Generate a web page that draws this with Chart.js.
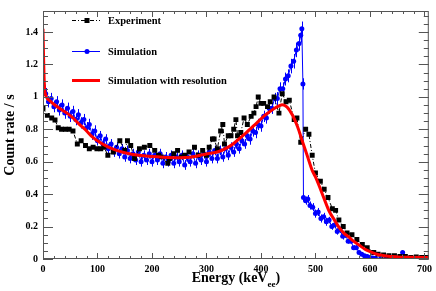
<!DOCTYPE html>
<html>
<head>
<meta charset="utf-8">
<script src="https://cdn.jsdelivr.net/npm/chart.js@4/dist/chart.umd.min.js"></script>
<style>
  html, body { margin: 0; padding: 0; background: #fff; }
  #wrap { width: 436px; height: 291px; }
</style>
</head>
<body>
<div id="wrap"><canvas id="mainChart" width="436" height="291"></canvas></div>
<script>
// axis tick labels
const xTickValues = [0, 100, 200, 300, 400, 500, 600, 700];
const yTickValues = [0, 0.2, 0.4, 0.6, 0.8, 1, 1.2, 1.4];

// Experiment (black squares)
const expEnergy = [0, 8, 16, 22, 28, 34, 41, 48, 55, 63, 70, 78, 85, 92, 99, 106, 112, 119, 129, 141,
  150, 155, 161, 168, 177, 186, 196, 205, 212, 217, 229, 232, 240, 247, 254, 260, 268, 278, 285, 293,
  300, 305, 311, 314, 320, 326, 330, 333, 340, 345, 350, 354, 357, 363, 369, 375, 382, 387, 391, 395,
  400, 405, 412, 417, 424, 433, 439, 446, 452, 461, 466, 473, 482, 488, 494, 500, 509, 516, 523, 531,
  537, 543, 551, 558, 567, 576, 586, 595, 607, 615, 625, 635, 645, 655, 665, 675, 685, 695, 705];
const expRate = [0.93, 0.886, 0.87, 0.857, 0.81, 0.80, 0.80, 0.80, 0.79, 0.71, 0.73, 0.70, 0.68, 0.69, 0.68, 0.68, 0.69, 0.64, 0.66, 0.73,
  0.67, 0.73, 0.70, 0.62, 0.68, 0.69, 0.70, 0.67, 0.64, 0.63, 0.59, 0.62, 0.65, 0.67, 0.63, 0.64, 0.66, 0.69, 0.64, 0.67,
  0.64, 0.69, 0.74, 0.74, 0.68, 0.79, 0.83, 0.71, 0.76, 0.76, 0.80, 0.86, 0.76, 0.78, 0.87, 0.83, 0.88, 0.90, 0.94, 1.00,
  0.96, 0.96, 0.94, 0.97, 1.00, 0.90, 1.02, 0.97, 0.98, 0.86, 0.87, 0.72, 0.80, 0.77, 0.64, 0.53, 0.48, 0.43, 0.38, 0.31,
  0.30, 0.24, 0.20, 0.16, 0.15, 0.12, 0.09, 0.07, 0.04, 0.03, 0.025, 0.02, 0.02, 0.015, 0.015, 0.01, 0.012, 0.01, 0.01];

// Simulation (blue points with error bars)
const simEnergy = [0, 5, 10, 15, 20, 25, 30, 35, 40, 45, 50, 55, 60, 65, 70, 75, 80, 85, 90, 95,
  100, 105, 110, 115, 120, 125, 130, 135, 140, 145, 150, 155, 160, 165, 170, 175, 180, 185, 190, 195,
  200, 205, 210, 215, 220, 225, 230, 235, 240, 245, 250, 255, 260, 265, 270, 275, 280, 285, 290, 295,
  300, 305, 310, 315, 320, 325, 330, 335, 340, 345, 350, 355, 360, 365, 370, 375, 380, 385, 390, 395,
  400, 405, 410, 415, 420, 425, 430, 435, 440, 445, 450, 455, 460, 465, 470, 473, 475, 477, 478, 482,
  486, 490, 495, 500, 505, 510, 515, 520, 525, 530, 535, 540, 545, 550, 555, 560, 565, 570, 575, 580,
  585, 590, 595, 600, 605, 610, 620, 630, 640, 650, 655, 660, 665, 670, 680, 690, 700];
const simRate = [1.07, 1.02, 0.97, 0.99, 0.94, 0.97, 0.92, 0.95, 0.90, 0.93, 0.88, 0.91, 0.86, 0.89, 0.84, 0.86, 0.81, 0.83, 0.77, 0.79,
  0.73, 0.76, 0.71, 0.74, 0.68, 0.71, 0.66, 0.69, 0.65, 0.68, 0.63, 0.67, 0.62, 0.65, 0.61, 0.66, 0.60, 0.64, 0.61, 0.65,
  0.60, 0.64, 0.61, 0.65, 0.59, 0.63, 0.60, 0.64, 0.59, 0.63, 0.60, 0.64, 0.58, 0.63, 0.60, 0.65, 0.59, 0.64, 0.61, 0.65,
  0.60, 0.66, 0.62, 0.67, 0.62, 0.67, 0.63, 0.68, 0.64, 0.69, 0.66, 0.71, 0.68, 0.73, 0.71, 0.76, 0.74, 0.79, 0.78, 0.83,
  0.82, 0.88, 0.87, 0.93, 0.93, 0.99, 0.99, 1.05, 1.05, 1.11, 1.13, 1.19, 1.22, 1.29, 1.33, 1.38, 1.42, 1.08, 0.38, 0.36,
  0.37, 0.33, 0.32, 0.28, 0.29, 0.25, 0.26, 0.23, 0.24, 0.20, 0.21, 0.17, 0.18, 0.14, 0.15, 0.11, 0.11, 0.07, 0.07, 0.04,
  0.03, 0.02, 0.015, 0.01, 0.006, 0.004, 0.003, 0.002, 0.002, 0.001, 0.002, 0.04, 0.002, 0.001, 0, 0, 0];
const simErr = [0.035, 0.035, 0.035, 0.035, 0.035, 0.035, 0.035, 0.035, 0.035, 0.035, 0.035, 0.035, 0.035, 0.035, 0.035, 0.035, 0.035, 0.035, 0.035, 0.035,
  0.03, 0.03, 0.03, 0.03, 0.03, 0.03, 0.03, 0.03, 0.03, 0.03, 0.03, 0.03, 0.03, 0.03, 0.03, 0.03, 0.03, 0.03, 0.03, 0.03,
  0.03, 0.03, 0.03, 0.03, 0.03, 0.03, 0.03, 0.03, 0.03, 0.03, 0.03, 0.03, 0.03, 0.03, 0.03, 0.03, 0.03, 0.03, 0.03, 0.03,
  0.03, 0.03, 0.03, 0.03, 0.03, 0.03, 0.03, 0.03, 0.03, 0.03, 0.03, 0.03, 0.03, 0.03, 0.03, 0.03, 0.035, 0.035, 0.035, 0.035,
  0.035, 0.035, 0.035, 0.035, 0.035, 0.035, 0.04, 0.04, 0.04, 0.04, 0.04, 0.045, 0.045, 0.045, 0.045, 0.045, 0.045, 0.035, 0.025, 0.025,
  0.025, 0.025, 0.025, 0.025, 0.025, 0.025, 0.025, 0.025, 0.02, 0.02, 0.02, 0.02, 0.02, 0.02, 0.02, 0.015, 0.015, 0.015, 0.015, 0.01,
  0.008, 0.006, 0.005, 0.004, 0.003, 0.002, 0.002, 0.002, 0.002, 0.001, 0.002, 0.008, 0.002, 0.001, 0, 0, 0];

// Simulation with resolution (red smooth curve)
const resEnergy = [0, 1, 2, 3, 5, 8, 13, 20, 30, 44, 55, 64, 72, 80, 90, 104, 120, 135, 150, 165,
  180, 200, 220, 250, 270, 296, 324, 340, 351, 370, 388, 405, 415, 425, 433, 439, 448, 458, 467, 476,
  485, 494, 500, 506, 515, 525, 535, 543, 552, 561, 570, 580, 590, 600, 616, 630, 650, 670, 700, 708];
const resRate = [1.42, 1.25, 1.12, 1.05, 1.01, 0.99, 0.975, 0.955, 0.93, 0.90, 0.87, 0.84, 0.815, 0.79, 0.755, 0.72, 0.69, 0.67, 0.655, 0.645,
  0.638, 0.632, 0.628, 0.625, 0.628, 0.645, 0.665, 0.69, 0.716, 0.77, 0.826, 0.88, 0.906, 0.93, 0.945, 0.952, 0.937, 0.887, 0.817, 0.727,
  0.637, 0.547, 0.506, 0.458, 0.38, 0.296, 0.24, 0.196, 0.16, 0.136, 0.11, 0.086, 0.062, 0.046, 0.026, 0.018, 0.013, 0.011, 0.01, 0.01];

const xMax = 708;
const yMax = 1.53;
const serif = '"Liberation Serif", "Times New Roman", serif';

const toXY = (xs, ys) => xs.map((x, i) => ({ x: x, y: ys[i] }));

// error bars for the simulation, drawn right after that dataset
const errorBars = {
  id: 'errorBars',
  afterDatasetDraw(chart, args) {
    if (args.index !== 1) return;
    const { ctx, scales: { x, y } } = chart;
    ctx.save();
    ctx.strokeStyle = '#0000ff';
    ctx.lineWidth = 1;
    ctx.beginPath();
    simEnergy.forEach((e, i) => {
      const px = Math.round(x.getPixelForValue(e)) + 0.5;
      ctx.moveTo(px, y.getPixelForValue(simRate[i] - simErr[i]));
      ctx.lineTo(px, y.getPixelForValue(simRate[i] + simErr[i]));
    });
    ctx.stroke();
    ctx.restore();
  }
};

// ROOT-like frame with inside ticks, legend and x title with subscript
const frameStuff = {
  id: 'frameStuff',
  afterDraw(chart) {
    const { ctx, chartArea: a, scales: { x, y } } = chart;
    ctx.save();
    ctx.strokeStyle = '#555';
    ctx.lineWidth = 1;
    ctx.strokeRect(a.left + 0.5, a.top + 0.5, a.right - a.left - 1, a.bottom - a.top - 1);
    ctx.beginPath();
    for (let i = 0; i * 20 <= xMax; i++) {
      const px = Math.round(x.getPixelForValue(i * 20)) + 0.5;
      const len = i % 5 === 0 ? 6 : 3;
      ctx.moveTo(px, a.bottom); ctx.lineTo(px, a.bottom - len);
      ctx.moveTo(px, a.top); ctx.lineTo(px, a.top + len);
    }
    for (let i = 0; i * 0.05 <= yMax; i++) {
      const py = Math.round(y.getPixelForValue(i * 0.05)) + 0.5;
      const len = i % 4 === 0 ? 10 : 5;
      ctx.moveTo(a.left, py); ctx.lineTo(a.left + len, py);
      ctx.moveTo(a.right, py); ctx.lineTo(a.right - len, py);
    }
    ctx.stroke();

    // legend
    const items = [
      { label: 'Experiment', color: '#000', width: 1, dash: [4, 2, 1, 2], marker: 'rect', y: 20 },
      { label: 'Simulation', color: '#0000ff', width: 1, dash: [], marker: 'circle', y: 51 },
      { label: 'Simulation with resolution', color: '#ff0000', width: 3, dash: [], marker: null, y: 80 }
    ];
    items.forEach(it => {
      ctx.strokeStyle = it.color;
      ctx.fillStyle = it.color;
      ctx.lineWidth = it.width;
      ctx.setLineDash(it.dash);
      ctx.beginPath();
      ctx.moveTo(72, it.y + 0.5);
      ctx.lineTo(100, it.y + 0.5);
      ctx.stroke();
      ctx.setLineDash([]);
      if (it.marker === 'rect') ctx.fillRect(84.5, it.y - 2, 5, 5);
      if (it.marker === 'circle') {
        ctx.beginPath();
        ctx.arc(87, it.y + 0.5, 2.5, 0, Math.PI * 2);
        ctx.fill();
      }
      ctx.fillStyle = '#000';
      ctx.font = 'bold 10.5px ' + serif;
      ctx.textBaseline = 'middle';
      ctx.textAlign = 'left';
      ctx.fillText(it.label, 108, it.y + 1);
    });

    // x axis title with subscript
    const main = 'Energy (keV';
    ctx.font = 'bold 14px ' + serif;
    const w1 = ctx.measureText(main).width;
    const w3 = ctx.measureText(')').width;
    ctx.font = 'bold 9px ' + serif;
    const w2 = ctx.measureText('ee').width;
    let tx = (a.left + a.right) / 2 - (w1 + w2 + w3) / 2;
    ctx.textBaseline = 'alphabetic';
    ctx.font = 'bold 14px ' + serif;
    ctx.fillText(main, tx, 282);
    ctx.font = 'bold 9px ' + serif;
    ctx.fillText('ee', tx + w1, 287);
    ctx.font = 'bold 14px ' + serif;
    ctx.fillText(')', tx + w1 + w2, 282);
    ctx.restore();
  }
};

const ctx = document.getElementById('mainChart').getContext('2d');
const chart = new Chart(ctx, {
  type: 'line',
  data: {
    datasets: [
      {
        label: 'Experiment',
        data: toXY(expEnergy, expRate),
        borderColor: '#000',
        backgroundColor: '#000',
        borderWidth: 1,
        borderDash: [4, 2, 1, 2],
        pointStyle: 'rect',
        pointRadius: 3.5,
        pointBorderWidth: 0,
        tension: 0,
        order: 1
      },
      {
        label: 'Simulation',
        data: toXY(simEnergy, simRate),
        borderColor: '#0000ff',
        backgroundColor: '#0000ff',
        borderWidth: 1,
        pointStyle: 'circle',
        pointRadius: 2.5,
        pointBorderWidth: 0,
        tension: 0,
        order: 2
      },
      {
        label: 'Simulation with resolution',
        data: toXY(resEnergy, resRate),
        borderColor: '#ff0000',
        backgroundColor: '#ff0000',
        borderWidth: 3,
        pointRadius: 0,
        cubicInterpolationMode: 'monotone',
        order: 0
      }
    ]
  },
  options: {
    responsive: false,
    animation: false,
    devicePixelRatio: 1,
    layout: { padding: { top: 4, right: 6, left: 0, bottom: 0 } },
    plugins: {
      legend: { display: false },
      tooltip: { enabled: false }
    },
    scales: {
      x: {
        type: 'linear',
        min: 0,
        max: xMax,
        border: { display: false },
        grid: { display: false, drawTicks: false },
        ticks: {
          autoSkip: false,
          padding: 4,
          color: '#000',
          font: { family: serif, size: 10, weight: 'bold' }
        },
        afterBuildTicks(scale) { scale.ticks = xTickValues.map(v => ({ value: v })); },
        afterFit(scale) { scale.height = 32; }
      },
      y: {
        min: 0,
        max: yMax,
        border: { display: false },
        grid: { display: false, drawTicks: false },
        ticks: {
          autoSkip: false,
          padding: 5,
          color: '#000',
          font: { family: serif, size: 10, weight: 'bold' },
          callback: v => String(v)
        },
        afterBuildTicks(scale) { scale.ticks = yTickValues.map(v => ({ value: v })); },
        title: {
          display: true,
          text: 'Count rate / s',
          color: '#000',
          padding: { top: 2, bottom: 0 },
          font: { family: serif, size: 14, weight: 'bold' }
        },
        afterFit(scale) { scale.width = 43; }
      }
    }
  },
  plugins: [errorBars, frameStuff]
});
</script>
</body>
</html>
